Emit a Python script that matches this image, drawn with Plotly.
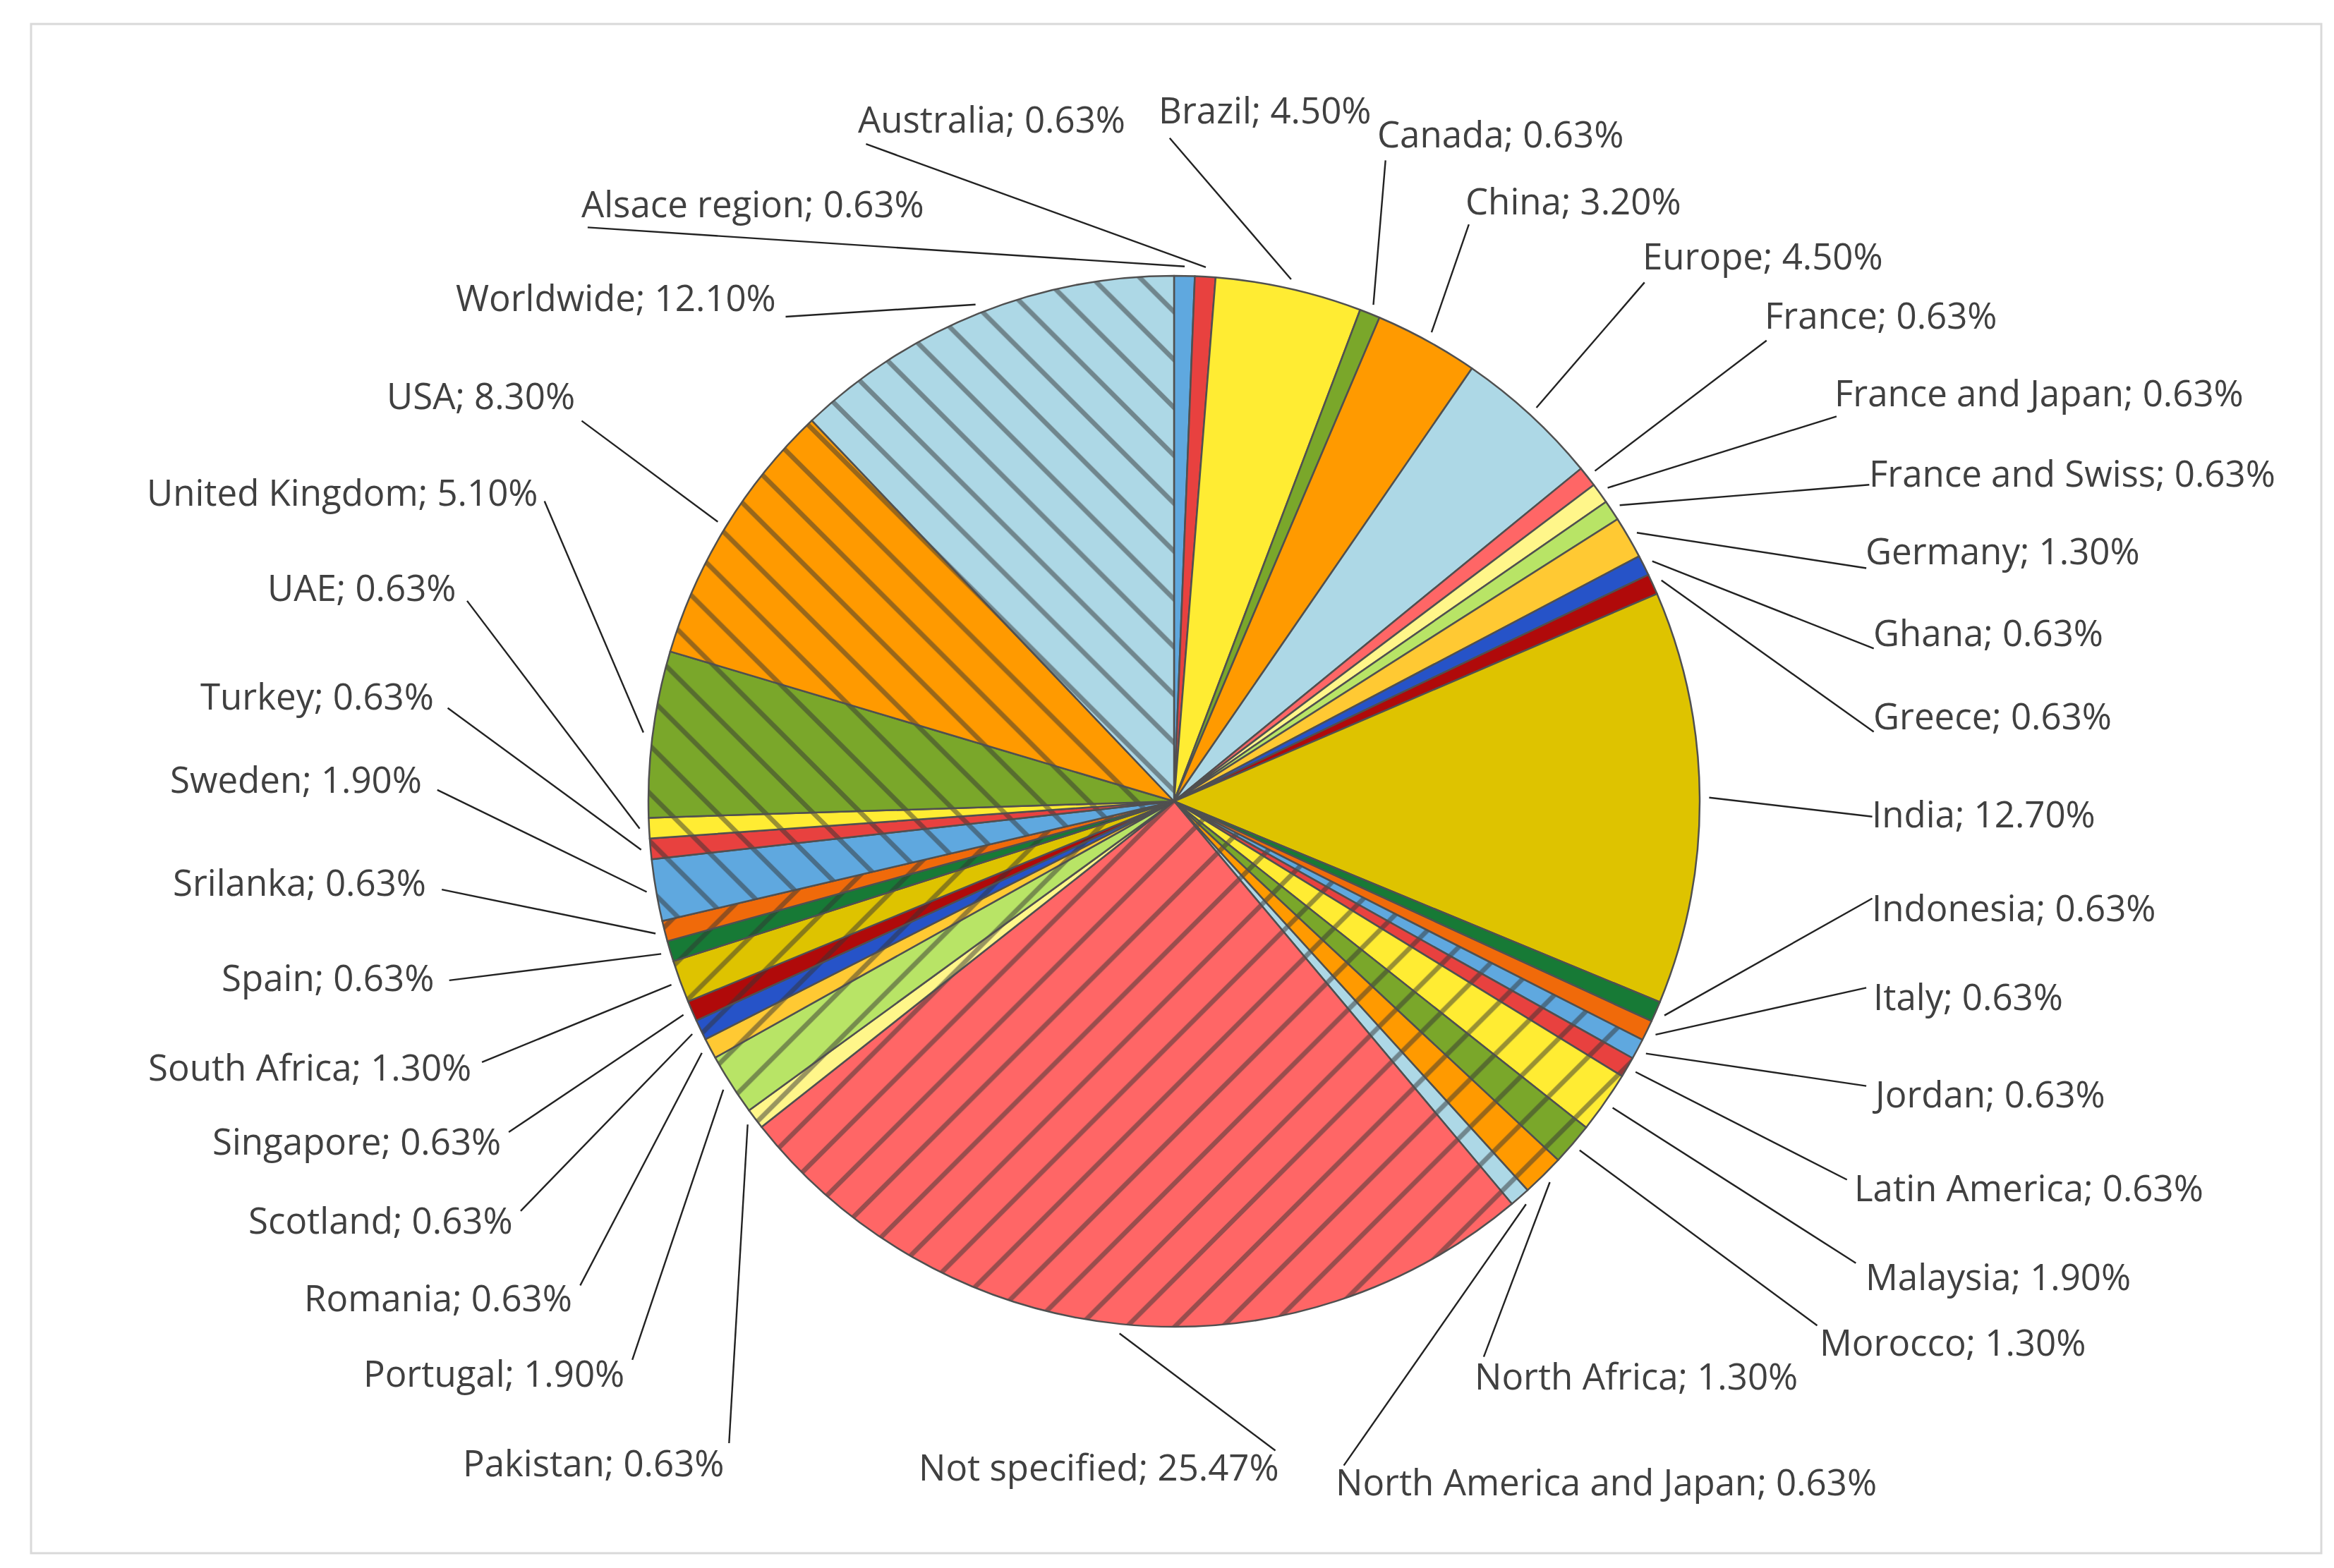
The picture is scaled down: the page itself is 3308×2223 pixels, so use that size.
import math
import plotly.graph_objects as go

W, H = 3308, 2223

# ---------------- data ----------------
categories = [
    "Alsace region", "Australia", "Brazil", "Canada", "China", "Europe", "France",
    "France and Japan", "France and Swiss", "Germany", "Ghana", "Greece", "India",
    "Indonesia", "Italy", "Jordan", "Latin America", "Malaysia", "Morocco",
    "North Africa", "North America and Japan", "Not specified", "Pakistan",
    "Portugal", "Romania", "Scotland", "Singapore", "South Africa", "Spain",
    "Srilanka", "Sweden", "Turkey", "UAE", "United Kingdom", "USA", "Worldwide",
]
values = [
    0.63, 0.63, 4.50, 0.63, 3.20, 4.50, 0.63,
    0.63, 0.63, 1.30, 0.63, 0.63, 12.70,
    0.63, 0.63, 0.63, 0.63, 1.90, 1.30,
    1.30, 0.63, 25.47, 0.63,
    1.90, 0.63, 0.63, 0.63, 1.30, 0.63,
    0.63, 1.90, 0.63, 0.63, 5.10, 8.30, 12.10,
]
value_labels = [
    "0.63%", "0.63%", "4.50%", "0.63%", "3.20%", "4.50%", "0.63%",
    "0.63%", "0.63%", "1.30%", "0.63%", "0.63%", "12.70%",
    "0.63%", "0.63%", "0.63%", "0.63%", "1.90%", "1.30%",
    "1.30%", "0.63%", "25.47%", "0.63%",
    "1.90%", "0.63%", "0.63%", "0.63%", "1.30%", "0.63%",
    "0.63%", "1.90%", "0.63%", "0.63%", "5.10%", "8.30%", "12.10%",
]

# ---------------- styles ----------------
base_palette = [
    "#5FA8DF", "#E8413F", "#FFEC33", "#7AA72A", "#FF9A00", "#ADD8E6", "#FF6666",
    "#FFF68A", "#B8E466", "#FFC933", "#2653C8", "#B00A0A", "#DEC300", "#177A36",
    "#F06A0A",
]
colors = [base_palette[i % len(base_palette)] for i in range(len(categories))]
hatch = ["" if i < 15 else ("/" if i < 30 else "\\") for i in range(len(categories))]

# pie geometry (pixels)
CX, CY, R = 1656, 1128, 745
S = W / 1568.0  # layout coords below were measured on a 1568-wide view
TEXT_DX = {"left": -9, "right": -3}   # compensate annotation padding (px)
TEXT_DY = -9

# label layout: (text x, text y, anchor, line attach x, line attach y)
label_layout = [
    (390, 137, "left", 391, 149), (576, 80, "left", 578, 93), (778, 74, "left", 782, 89),
    (925, 90, "left", 927, 104), (984, 135, "left", 983, 147), (1103, 172, "left", 1101, 186),
    (1185, 212, "left", 1183, 225), (1232, 264, "left", 1230, 276), (1255, 318, "left", 1252, 322),
    (1253, 370, "left", 1250, 378), (1258, 425, "left", 1255, 432), (1258, 481, "left", 1255, 488),
    (1257, 547, "left", 1254, 545), (1257, 610, "left", 1254, 600), (1258, 670, "left", 1250, 660),
    (1257, 735, "left", 1250, 726), (1245, 798, "left", 1237, 789), (1253, 858, "left", 1243, 845),
    (1222, 902, "left", 1217, 887), (990, 925, "left", 993, 908), (897, 996, "left", 899, 981),
    (858, 986, "right", 853, 971), (485, 983, "right", 486, 966), (418, 923, "right", 421, 910),
    (383, 872, "right", 386, 860), (343, 820, "right", 346, 810), (335, 767, "right", 338, 757),
    (315, 717, "right", 320, 710), (290, 657, "right", 298, 655), (285, 593, "right", 293, 594),
    (282, 524, "right", 290, 527), (290, 468, "right", 297, 472), (305, 395, "right", 310, 400),
    (360, 331, "right", 362, 333), (385, 266, "right", 387, 279), (520, 200, "right", 524, 209),
]

fig = go.Figure()

fig.add_trace(go.Pie(
    labels=categories,
    values=values,
    sort=False,
    direction="clockwise",
    rotation=0,
    textinfo="none",
    hoverinfo="label+value",
    showlegend=False,
    marker=dict(
        colors=colors,
        line=dict(color="#505050", width=2.5),
        pattern=dict(shape=hatch, fgcolor="#333333", fillmode="overlay",
                     size=48, solidity=0.14),
    ),
    domain=dict(x=[(CX - R) / W, (CX + R) / W],
                y=[(H - CY - R) / H, (H - CY + R) / H]),
))

# leader lines: from slice mid-angle on the rim to the label
total = sum(values)
lx, ly = [], []
cum = 0.0
RL = R * 1.018
for i, v in enumerate(values):
    theta = math.radians(360.0 * (cum + v / 2.0) / total)
    cum += v
    px = CX + RL * math.sin(theta)
    py = CY - RL * math.cos(theta)
    _, _, _, ax, ay = label_layout[i]
    lx += [px, ax * S, None]
    ly += [py, ay * S, None]

fig.add_trace(go.Scatter(
    x=lx, y=ly, mode="lines", line=dict(color="#222222", width=2.4),
    hoverinfo="skip", showlegend=False,
))

annotations = []
for i, name in enumerate(categories):
    tx, ty, anc, _, _ = label_layout[i]
    annotations.append(dict(
        x=tx * S + TEXT_DX[anc], y=ty * S + TEXT_DY, xref="x", yref="y",
        text=f"{name}; {value_labels[i]}",
        showarrow=False, xanchor=anc, yanchor="middle",
        font=dict(family="Open Sans, Noto Sans, sans-serif", size=51, color="#404040"),
    ))

fig.update_layout(
    width=W, height=H,
    margin=dict(l=0, r=0, t=0, b=0),
    paper_bgcolor="white", plot_bgcolor="white",
    xaxis=dict(range=[0, W], visible=False, domain=[0, 1], fixedrange=True),
    yaxis=dict(range=[H, 0], visible=False, domain=[0, 1], fixedrange=True),
    annotations=annotations,
    shapes=[dict(type="rect", xref="x", yref="y", x0=36, y0=26, x1=3282, y1=2194,
                 line=dict(color="#D9D9D9", width=3), fillcolor="rgba(0,0,0,0)", layer="below")],
    showlegend=False,
)

fig.write_html("out.html")
